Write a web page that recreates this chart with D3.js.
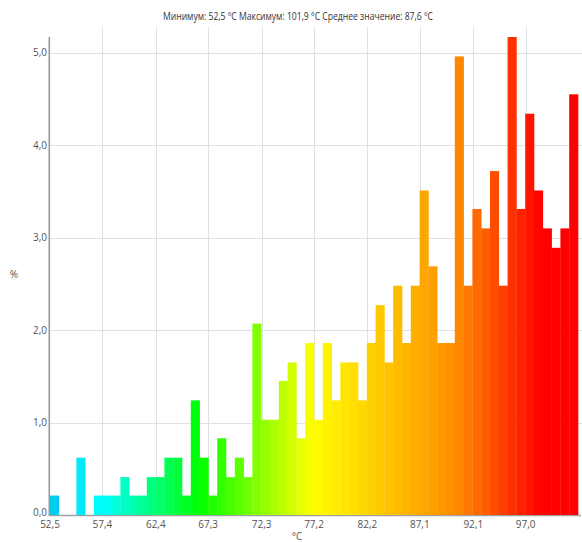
<!DOCTYPE html>
<html>
<head>
<meta charset="utf-8">
<script src="https://cdn.jsdelivr.net/npm/d3@7"></script>
<style>
  html, body { margin: 0; padding: 0; background: #fff; }
  svg { display: block; }
  text { font-family: "Open Sans", "Liberation Sans", sans-serif; }
</style>
</head>
<body>
<svg id="chart" width="582" height="542"></svg>
<script>
// ---- data ----
const minTemp = 52.5;
const maxTemp = 101.9;
const meanTemp = 87.6;
const binCount = 60;
// percentage of samples per bin (60 bins from 52,5 to 101,9 °C)
const percents = [
  0.21, 0.00, 0.00, 0.62, 0.00, 0.21, 0.21, 0.21, 0.41, 0.21,
  0.21, 0.41, 0.41, 0.62, 0.62, 0.21, 1.24, 0.62, 0.21, 0.83,
  0.41, 0.62, 0.41, 2.07, 1.03, 1.03, 1.45, 1.65, 0.83, 1.86,
  1.03, 1.86, 1.24, 1.65, 1.65, 1.24, 1.86, 2.27, 1.65, 2.48,
  1.86, 2.48, 3.51, 2.69, 1.86, 1.86, 4.96, 2.48, 3.31, 3.10,
  3.72, 2.48, 5.17, 3.31, 4.34, 3.51, 3.10, 2.89, 3.10, 4.55
];
const xTickLabels = ["52,5", "57,4", "62,4", "67,3", "72,3", "77,2", "82,2", "87,1", "92,1", "97,0"];
const yTickValues = [0, 1, 2, 3, 4, 5];
const titleText = "Минимум: 52,5 °C Максимум: 101,9 °C Среднее  значение: 87,6 °C";
const xUnit = "°C";
const yUnit = "%";

(function () {
// ---- layout ----
const svg = d3.select("#chart");
const W = 582, H = 542;
const mLeft = 50, mRight = 578, mTop = 37, mBottom = 515;

const binW = (maxTemp - minTemp) / binCount;
const bins = percents.map((v, i) => ({ i, x0: minTemp + i * binW, x1: minTemp + (i + 1) * binW, v }));

const x = d3.scaleLinear().domain([minTemp, maxTemp]).range([mLeft, mRight]);
const y = d3.scaleLinear().domain([0, d3.max(percents)]).range([mBottom, mTop]);

const color = d3.scaleLinear()
  .domain([52.5, 57.4, 66.5, 77.0, 90.5, 98.5])
  .range(["#00c8f0", "#00ffff", "#00ff00", "#ffff00", "#ff8c00", "#ff0000"])
  .interpolate(d3.interpolateRgb)
  .clamp(true);

const xTickVals = xTickLabels.map(s => +s.replace(",", "."));

// gridlines
const grid = svg.append("g");
grid.selectAll("line.v").data(xTickVals.slice(1)).join("line")
  .attr("x1", d => Math.round(x(d)) + 0.5).attr("x2", d => Math.round(x(d)) + 0.5)
  .attr("y1", 27).attr("y2", mBottom)
  .attr("stroke", "#e0e0e0").attr("stroke-width", 1);
grid.selectAll("line.h").data(yTickValues.slice(1)).join("line")
  .attr("x1", mLeft).attr("x2", W)
  .attr("y1", d => Math.round(y(d)) + 0.5).attr("y2", d => Math.round(y(d)) + 0.5)
  .attr("stroke", "#e0e0e0").attr("stroke-width", 1);

// baseline
svg.append("line")
  .attr("x1", mLeft).attr("x2", W - 1)
  .attr("y1", mBottom + 0.5).attr("y2", mBottom + 0.5)
  .attr("stroke", "#a0a0a0").attr("stroke-width", 1.5);

// bars
svg.append("g").selectAll("rect").data(bins).join("rect")
  .attr("x", d => x(d.x0))
  .attr("width", d => x(d.x1) - x(d.x0) + 0.3)
  .attr("y", d => y(d.v))
  .attr("height", d => mBottom - y(d.v))
  .attr("fill", d => color((d.x0 + d.x1) / 2));

// y axis line
svg.append("line")
  .attr("x1", mLeft - 0.7).attr("x2", mLeft - 0.7)
  .attr("y1", mTop).attr("y2", mBottom + 1)
  .attr("stroke", "#999").attr("stroke-width", 1.6);

// y tick labels
svg.append("g").selectAll("text").data(yTickValues).join("text")
  .attr("x", mLeft - 3)
  .attr("y", d => y(d) - (d === 0 ? 3 : 0))
  .attr("dy", "0.35em")
  .attr("text-anchor", "end")
  .attr("font-size", 10)
  .attr("fill", "#555")
  .text(d => d3.format(".1f")(d).replace(".", ","));

// x tick labels
svg.append("g").selectAll("text").data(xTickVals).join("text")
  .attr("x", d => x(d))
  .attr("y", 528)
  .attr("text-anchor", "middle")
  .attr("font-size", 10)
  .attr("fill", "#555")
  .text((d, i) => xTickLabels[i]);

// axis titles
svg.append("text")
  .attr("x", 297).attr("y", 540)
  .attr("text-anchor", "middle")
  .attr("font-size", 10).attr("fill", "#555")
  .text(xUnit);
svg.append("text")
  .attr("x", 14).attr("y", 278)
  .attr("text-anchor", "middle")
  .attr("font-size", 10).attr("fill", "#555")
  .text(yUnit);

// title
svg.append("text")
  .attr("x", 163).attr("y", 19.5)
  .attr("font-size", 10.5).attr("fill", "#333")
  .attr("textLength", 270)
  .attr("lengthAdjust", "spacingAndGlyphs")
  .text(titleText);
})();
</script>
</body>
</html>
